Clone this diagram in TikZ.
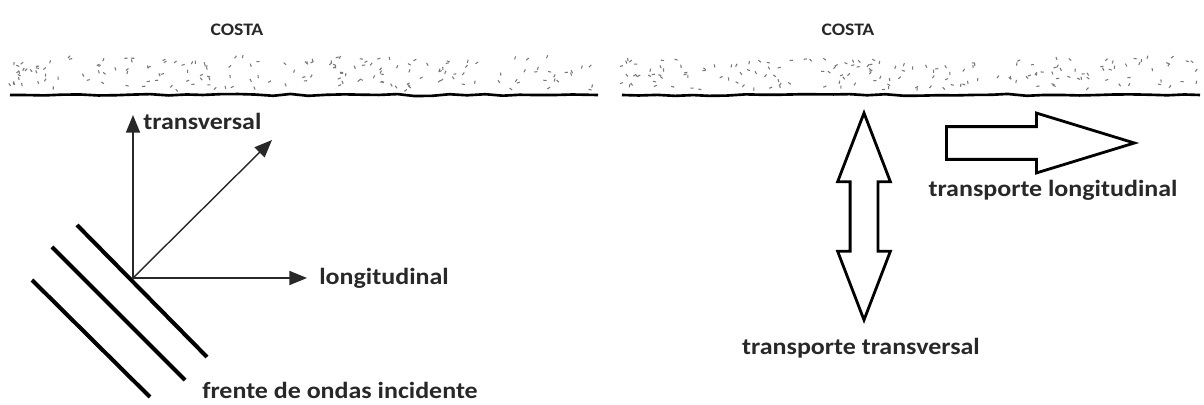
\documentclass[tikz,border=0pt]{standalone}
\usepackage{fontspec}
\setmainfont{Carlito}[FakeStretch=1.12]
\usetikzlibrary{arrows.meta,positioning,shapes.arrows,decorations.pathmorphing}
\definecolor{cInk}{RGB}{40,40,40}
\definecolor{cSand}{RGB}{120,120,120}
\tikzset{
  lbl/.style={font=\bfseries\fontsize{13.2}{15}\selectfont,text=cInk,inner sep=0pt},
  coastlbl/.style={font=\bfseries\fontsize{10}{12}\selectfont,text=cInk,inner sep=0pt},
  vec/.style={-{Triangle[length=10pt,width=8pt]},line width=0.8pt,color=cInk},
  front/.style={line width=2.3pt,color=black},
  shore/.style={line width=1.5pt,decorate,
                decoration={random steps,segment length=10pt,amplitude=0.6pt}},
  speck/.style={color=cSand,line width=0.6pt},
  blockarr/.style={draw=black,line width=1.6pt,fill=white,inner xsep=0pt}
}

\begin{document}
\begin{tikzpicture}[x=0.02cm,y=-0.02cm]
  \useasboundingbox (0,0) rectangle (1204,405);

  % Coast bands
  \node[coastlbl] (costaL) at (237,30) {COSTA};
  \node[coastlbl] (costaR) at (848,30) {COSTA};
  \pgfmathsetseed{11}
  \foreach \xa/\xb in {10/598,622/1200} {
    \foreach \i in {1,...,170} {
      \pgfmathsetmacro\sx{\xa+(\xb-\xa)*rnd}
      \pgfmathsetmacro\sy{58+32*rnd}
      \pgfmathsetmacro\sa{360*rnd}
      \draw[speck] (\sx,\sy) -- ++(\sa:1.8pt);
    }
    \draw[shore] (\xa,95) -- (\xb,95);
  }

  % Left: wave vectors
  \coordinate (o) at (133,278);
  \coordinate (tv) at (133,115);
  \coordinate (dg) at (272,140);
  \coordinate (lg) at (307,278);
  \draw[vec] (o) -- (tv);
  \draw[vec] (o) -- (dg);
  \draw[vec] (o) -- (lg);
  \node[lbl,anchor=west] (transv) at (143,121) {transversal};
  \node[lbl,right=0.24cm of lg] (longit) {longitudinal};

  % Wave fronts
  \draw[front] (77,225) -- (207,357);
  \draw[front] (52,247) -- (185,380);
  \draw[front] (32,280) -- (150,397);
  \node[lbl,anchor=west] (frente) at (202,390) {frente de ondas incidente};

  % Right: transport arrows
  \node[blockarr,double arrow,rotate=90,minimum height=4.14cm,minimum width=0pt,
        inner ysep=0.25cm,double arrow head extend=0.25cm,
        double arrow tip angle=42] (dbl) at (864,216.5) {};
  \node[blockarr,single arrow,anchor=tail,minimum height=3.76cm,minimum width=0pt,
        inner ysep=0.3cm,single arrow head extend=0.27cm,
        single arrow tip angle=34] (sgl) at (945,143) {};
  \node[lbl] (tlong) at (1053,190) {transporte longitudinal};
  \node[lbl] (ttrans) at (861,348) {transporte transversal};

\end{tikzpicture}
\end{document}
